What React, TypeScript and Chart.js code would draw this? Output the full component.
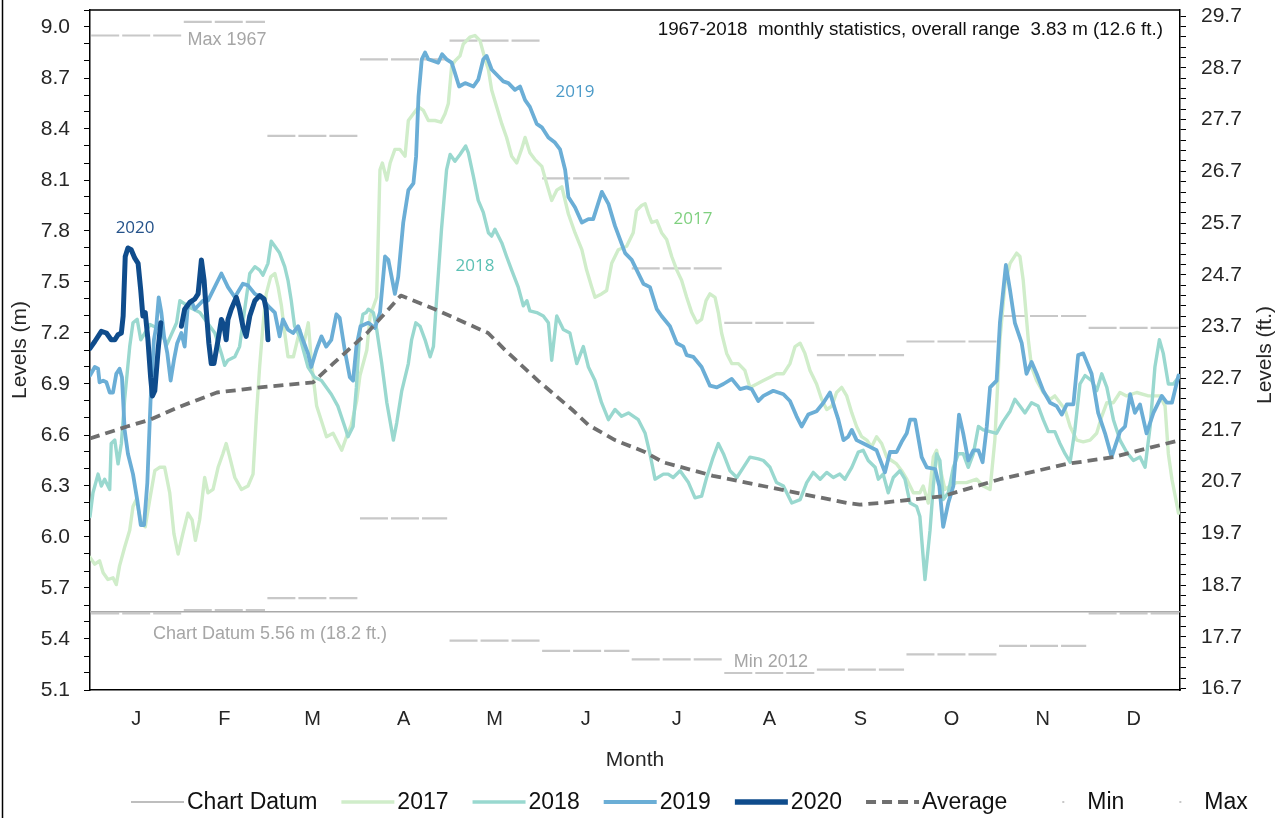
import React, { useEffect, useRef } from 'react';
import { Chart, registerables } from 'chart.js';

Chart.register(...registerables);

// ---------- categories / ticks ----------
const monthLabels = ['J', 'F', 'M', 'A', 'M', 'J', 'J', 'A', 'S', 'O', 'N', 'D'];
const monthStartDays = [0, 31, 59, 90, 120, 151, 181, 212, 243, 273, 304, 334, 365];
const metreTicks = [5.1, 5.4, 5.7, 6.0, 6.3, 6.6, 6.9, 7.2, 7.5, 7.8, 8.1, 8.4, 8.7, 9.0];
const feetTicks = [16.7, 17.7, 18.7, 19.7, 20.7, 21.7, 22.7, 23.7, 24.7, 25.7, 26.7, 27.7, 28.7, 29.7];

// ---------- monthly statistics 1967-2018 (m) ----------
const monthlyMax = [8.95, 9.03, 8.36, 8.81, 8.92, 8.11, 7.58, 7.26, 7.07, 7.15, 7.30, 7.23];
const monthlyMin = [5.55, 5.57, 5.64, 6.11, 5.39, 5.33, 5.28, 5.20, 5.22, 5.31, 5.36, 5.55];
const chartDatum = 5.56;

// ---------- daily levels [day of year, level m] ----------
const level2017 = [
  [0, 5.88], [1.6, 5.84], [3.2, 5.86], [4.4, 5.79], [6.0, 5.75], [7.7, 5.76], [8.8, 5.72], [9.9, 5.83], [11.6, 5.94],
  [13.3, 6.04], [14.4, 6.18], [15.5, 6.22], [17.2, 6.08], [18.5, 6.06], [20.0, 6.22], [21.7, 6.39], [23.3, 6.41],
  [25.0, 6.41], [26.7, 6.26], [28.1, 6.02], [29.5, 5.90], [31.1, 6.02], [32.8, 6.14], [34.2, 6.10], [35.3, 5.98],
  [36.7, 6.10], [38.4, 6.35], [39.5, 6.26], [41.2, 6.28], [42.9, 6.41], [44.5, 6.49], [45.6, 6.55], [46.8, 6.47],
  [48.5, 6.35], [50.7, 6.28], [52.9, 6.30], [54.6, 6.37], [55.7, 6.71], [56.8, 7.00], [57.9, 7.24], [59.0, 7.43],
  [60.5, 7.53], [61.9, 7.55], [63.0, 7.47], [64.1, 7.36], [65.2, 7.20], [66.3, 7.06], [68.1, 7.06], [70.3, 7.22],
  [71.4, 7.12], [73.1, 7.26], [74.2, 7.02], [75.9, 6.77], [79.2, 6.59], [81.4, 6.61], [84.3, 6.51], [85.9, 6.59],
  [87.5, 6.66], [89.3, 6.80], [90.4, 6.95], [92.7, 7.10], [93.8, 7.30], [96.0, 7.41], [97.1, 8.16], [97.9, 8.20],
  [99.4, 8.10], [100.5, 8.20], [102.1, 8.28], [103.8, 8.28], [105.5, 8.24], [106.6, 8.45], [108.3, 8.49], [110.0, 8.53],
  [111.6, 8.51], [113.3, 8.45], [115.5, 8.45], [117.5, 8.44], [118.9, 8.49], [120.0, 8.55], [121.1, 8.77], [122.2, 8.80],
  [123.9, 8.83], [125.0, 8.90], [127.2, 8.94], [128.9, 8.95], [130.6, 8.92], [132.3, 8.81], [133.4, 8.75], [134.5, 8.63],
  [136.2, 8.53], [137.9, 8.43], [139.5, 8.35], [141.2, 8.24], [142.9, 8.20], [144.5, 8.28], [145.7, 8.35], [147.3, 8.26],
  [149.0, 8.22], [151.3, 8.18], [152.9, 8.08], [154.6, 7.98], [156.3, 8.04], [158.0, 8.06], [160.2, 7.90], [162.4, 7.79],
  [164.7, 7.69], [166.3, 7.57], [168.0, 7.47], [169.1, 7.41], [171.3, 7.43], [173.0, 7.45], [174.7, 7.61], [176.9, 7.69],
  [179.7, 7.71], [181.9, 7.79], [183.0, 7.92], [184.7, 7.95], [185.9, 7.96], [187.0, 7.90], [188.1, 7.85], [189.8, 7.86],
  [191.4, 7.79], [193.1, 7.75], [194.8, 7.65], [196.5, 7.57], [198.1, 7.51], [199.8, 7.41], [201.5, 7.32], [203.2, 7.26],
  [204.8, 7.28], [206.3, 7.39], [207.6, 7.43], [209.3, 7.41], [210.4, 7.32], [211.5, 7.20], [213.2, 7.08], [214.9, 7.02],
  [217.1, 7.02], [219.3, 6.98], [221.0, 6.88], [223.3, 6.90], [225.5, 6.92], [227.7, 6.94], [229.9, 6.96], [232.2, 6.96],
  [234.4, 7.02], [236.1, 7.12], [237.8, 7.14], [239.4, 7.08], [241.1, 6.98], [243.3, 6.90], [245.0, 6.81], [246.7, 6.75],
  [248.4, 6.77], [250.0, 6.85], [251.7, 6.88], [253.4, 6.83], [255.1, 6.73], [256.7, 6.65], [258.4, 6.59], [260.1, 6.57],
  [261.7, 6.53], [263.4, 6.59], [265.1, 6.55], [266.8, 6.47], [268.4, 6.45], [270.1, 6.43], [271.8, 6.39], [273.5, 6.34],
  [275.7, 6.26], [277.9, 6.26], [279.0, 6.30], [280.7, 6.20], [282.4, 6.47], [283.5, 6.51], [284.6, 6.41], [286.3, 6.28],
  [288.0, 6.30], [290.2, 6.32], [293.5, 6.32], [296.9, 6.34], [299.1, 6.30], [301.4, 6.28], [303.0, 6.57], [304.7, 7.16],
  [306.4, 7.49], [308.1, 7.61], [310.3, 7.67], [311.4, 7.65], [312.5, 7.51], [314.2, 7.16], [315.3, 7.00], [317.0, 6.92],
  [319.2, 6.85], [321.5, 6.81], [323.1, 6.83], [324.8, 6.79], [326.5, 6.75], [328.2, 6.65], [330.4, 6.57], [332.6, 6.56],
  [334.9, 6.57], [337.1, 6.61], [338.8, 6.71], [340.5, 6.79], [342.7, 6.79], [344.9, 6.85], [347.1, 6.83], [350.5, 6.85],
  [354.4, 6.83], [358.3, 6.83], [360.0, 6.77], [361.1, 6.49], [362.3, 6.34], [364.5, 6.14],
];

const level2018 = [
  [0, 6.12], [1.0, 6.26], [2.7, 6.37], [3.8, 6.30], [4.9, 6.34], [6.6, 6.28], [7.1, 6.55], [8.3, 6.57], [9.4, 6.43],
  [10.5, 6.55], [11.6, 6.81], [13.3, 7.12], [14.4, 7.26], [15.8, 7.28], [17.0, 7.16], [20.1, 7.25], [23.4, 7.22],
  [25.7, 7.13], [29.0, 7.26], [30.1, 7.39], [33.5, 7.35], [36.8, 7.32], [41.8, 7.20], [44.0, 7.08], [45.1, 7.01],
  [46.2, 7.04], [48.5, 7.06], [50.1, 7.12], [51.8, 7.34], [53.5, 7.55], [55.2, 7.59], [56.8, 7.57], [57.9, 7.54],
  [59.6, 7.61], [60.7, 7.74], [61.9, 7.71], [63.5, 7.67], [65.2, 7.59], [66.3, 7.51], [67.4, 7.39], [68.5, 7.24],
  [70.2, 7.18], [73.0, 7.00], [75.2, 6.94], [77.5, 6.92], [80.8, 6.84], [83.0, 6.77], [85.3, 6.65], [86.4, 6.59],
  [88.1, 6.65], [89.2, 6.88], [90.3, 7.20], [91.4, 7.31], [92.5, 7.32], [93.2, 7.34], [94.9, 7.32], [96.0, 7.22],
  [97.7, 7.02], [99.4, 6.79], [101.6, 6.57], [102.7, 6.67], [104.4, 6.86], [106.6, 7.02], [107.7, 7.16], [109.1, 7.26],
  [110.5, 7.24], [112.2, 7.16], [113.9, 7.06], [115.0, 7.12], [116.1, 7.41], [117.7, 7.81], [119.4, 8.16], [120.6, 8.25],
  [122.2, 8.21], [123.9, 8.25], [125.8, 8.30], [126.7, 8.26], [128.4, 8.12], [130.0, 7.98], [131.7, 7.91], [133.4, 7.79],
  [134.5, 7.77], [135.6, 7.81], [137.9, 7.73], [139.5, 7.65], [141.2, 7.57], [143.4, 7.47], [145.1, 7.36], [146.3, 7.39],
  [147.3, 7.33], [149.6, 7.32], [151.8, 7.30], [153.5, 7.26], [154.6, 7.04], [156.3, 7.30], [158.5, 7.22], [160.7, 7.20],
  [163.0, 7.02], [165.2, 7.12], [166.9, 7.00], [169.1, 6.92], [171.3, 6.79], [173.6, 6.69], [175.8, 6.75], [178.0, 6.71],
  [180.3, 6.73], [183.6, 6.69], [185.9, 6.61], [187.5, 6.49], [189.2, 6.34], [192.0, 6.37], [193.6, 6.37], [195.3, 6.35],
  [197.6, 6.39], [200.4, 6.32], [202.6, 6.23], [204.8, 6.24], [206.5, 6.35], [208.7, 6.47], [210.4, 6.55], [212.1, 6.49],
  [214.3, 6.39], [216.6, 6.35], [218.8, 6.41], [221.0, 6.47], [223.8, 6.46], [225.5, 6.45], [227.7, 6.41], [229.9, 6.32],
  [232.2, 6.30], [235.0, 6.20], [237.8, 6.22], [240.0, 6.32], [242.2, 6.38], [244.5, 6.34], [246.7, 6.38], [248.9, 6.35],
  [251.1, 6.37], [252.8, 6.34], [255.1, 6.41], [257.3, 6.50], [258.9, 6.51], [260.6, 6.45], [262.9, 6.41], [264.0, 6.34],
  [265.6, 6.37], [267.3, 6.26], [269.0, 6.35], [271.2, 6.39], [272.9, 6.34], [274.6, 6.20], [276.8, 6.18], [277.9, 6.12],
  [279.6, 5.75], [281.3, 6.04], [282.4, 6.30], [283.5, 6.49], [284.6, 6.45], [285.7, 6.22], [287.4, 6.26], [289.1, 6.41],
  [290.8, 6.49], [292.4, 6.49], [294.1, 6.41], [295.8, 6.49], [297.5, 6.65], [299.1, 6.63], [301.4, 6.62], [303.6, 6.61],
  [305.8, 6.68], [308.1, 6.74], [309.7, 6.81], [311.4, 6.77], [313.1, 6.73], [315.3, 6.79], [317.5, 6.77], [319.2, 6.69],
  [320.9, 6.62], [323.1, 6.62], [324.8, 6.55], [326.5, 6.49], [328.2, 6.44], [329.8, 6.63], [331.5, 6.90], [333.2, 6.95],
  [335.4, 6.92], [337.1, 6.86], [338.8, 6.96], [340.5, 6.88], [342.7, 6.69], [344.9, 6.57], [347.1, 6.50], [349.4, 6.45],
  [351.6, 6.47], [353.3, 6.41], [355.0, 6.65], [356.6, 7.00], [358.1, 7.16], [359.4, 7.08], [361.1, 6.90], [362.8, 6.90],
  [364.5, 6.94],
];

const level2019 = [
  [0, 6.95], [1.6, 7.00], [2.7, 6.99], [3.2, 6.91], [4.4, 6.92], [5.5, 6.91], [6.6, 6.85], [7.7, 6.85], [8.8, 6.96],
  [9.9, 6.99], [10.7, 6.94], [11.6, 6.63], [12.7, 6.49], [14.4, 6.37], [15.8, 6.22], [17.0, 6.07], [18.1, 6.07],
  [19.2, 6.32], [20.3, 6.81], [21.4, 7.16], [22.2, 7.24], [23.0, 7.41], [23.9, 7.32], [24.8, 7.18], [25.9, 7.08],
  [27.0, 6.92], [28.1, 7.04], [29.2, 7.14], [30.6, 7.20], [31.7, 7.12], [32.8, 7.37], [33.9, 7.39], [35.1, 7.34],
  [36.2, 7.36], [37.8, 7.39], [39.5, 7.39], [44.0, 7.55], [46.2, 7.47], [48.5, 7.41], [51.2, 7.49], [52.9, 7.48],
  [55.2, 7.43], [57.4, 7.41], [59.6, 7.36], [61.9, 7.32], [63.5, 7.18], [64.6, 7.28], [66.3, 7.22], [68.0, 7.20],
  [69.7, 7.24], [71.3, 7.16], [73.0, 7.08], [74.1, 7.00], [75.8, 7.10], [77.5, 7.18], [79.1, 7.12], [80.8, 7.16],
  [82.5, 7.31], [83.6, 7.29], [85.3, 7.10], [87.0, 6.94], [88.1, 6.92], [89.2, 7.12], [90.6, 7.24], [93.2, 7.26],
  [95.4, 7.23], [97.1, 7.32], [98.8, 7.65], [99.9, 7.63], [102.1, 7.43], [103.2, 7.53], [104.9, 7.85], [106.6, 8.04],
  [108.3, 8.08], [109.2, 8.24], [110.0, 8.59], [111.1, 8.81], [112.2, 8.85], [113.3, 8.81], [115.0, 8.80], [116.6, 8.79],
  [117.9, 8.84], [119.4, 8.81], [121.1, 8.79], [122.2, 8.73], [123.6, 8.65], [125.6, 8.67], [128.4, 8.65], [130.0, 8.69],
  [131.7, 8.81], [132.8, 8.83], [134.5, 8.75], [136.7, 8.71], [138.4, 8.68], [140.1, 8.67], [142.3, 8.63], [144.0, 8.65],
  [145.7, 8.57], [147.3, 8.53], [149.6, 8.43], [151.3, 8.41], [153.5, 8.35], [155.7, 8.32], [157.4, 8.28], [159.1, 8.16],
  [160.2, 8.00], [162.4, 7.94], [164.7, 7.85], [166.9, 7.87], [168.5, 7.87], [171.4, 8.03], [173.6, 7.96], [175.8, 7.83],
  [179.2, 7.67], [181.4, 7.63], [185.3, 7.49], [187.5, 7.47], [189.8, 7.34], [191.4, 7.30], [194.2, 7.24], [196.5, 7.14],
  [198.7, 7.12], [199.8, 7.07], [202.0, 7.06], [204.8, 7.00], [207.6, 6.89], [209.9, 6.88], [212.1, 6.90], [214.9, 6.93],
  [217.7, 6.87], [219.9, 6.88], [221.6, 6.87], [223.8, 6.80], [225.5, 6.83], [228.8, 6.86], [232.2, 6.84], [234.4, 6.80],
  [236.6, 6.71], [238.3, 6.65], [240.5, 6.72], [243.3, 6.74], [245.6, 6.79], [247.8, 6.85], [249.5, 6.75], [250.6, 6.69],
  [252.3, 6.57], [253.9, 6.59], [255.1, 6.63], [256.7, 6.57], [259.0, 6.55], [261.2, 6.53], [263.4, 6.51], [266.2, 6.38],
  [267.9, 6.50], [270.1, 6.50], [271.8, 6.56], [273.5, 6.61], [274.6, 6.69], [276.3, 6.69], [278.5, 6.47], [280.2, 6.41],
  [283.0, 6.40], [284.4, 6.30], [285.7, 6.06], [287.4, 6.20], [289.1, 6.30], [291.0, 6.72], [292.4, 6.61], [294.1, 6.45],
  [295.8, 6.51], [297.5, 6.51], [298.9, 6.44], [300.3, 6.65], [301.4, 6.88], [303.6, 6.92], [304.7, 7.26], [306.7, 7.60],
  [308.1, 7.45], [309.7, 7.26], [312.0, 7.14], [313.6, 6.96], [315.3, 7.03], [317.0, 6.96], [319.2, 6.86], [321.5, 6.79],
  [323.7, 6.77], [325.4, 6.72], [327.1, 6.78], [329.3, 6.78], [330.9, 7.07], [332.6, 7.08], [335.4, 6.96], [337.6, 6.73],
  [339.9, 6.61], [342.1, 6.47], [343.2, 6.53], [344.9, 6.62], [346.6, 6.65], [348.3, 6.84], [349.9, 6.73], [351.6, 6.78],
  [353.8, 6.61], [356.1, 6.73], [358.9, 6.83], [360.6, 6.79], [362.3, 6.79], [364.5, 6.95],
];

// 2020 has a short gap in the record around day 24-30
const level2020a = [
  [0, 7.11], [1.6, 7.15], [3.8, 7.21], [5.5, 7.20], [7.1, 7.16], [8.3, 7.16], [9.4, 7.19], [10.5, 7.20], [11.1, 7.30],
  [11.8, 7.65], [12.7, 7.70], [13.8, 7.69], [15.0, 7.64], [16.1, 7.61], [17.0, 7.45], [17.7, 7.30], [18.5, 7.32],
  [19.4, 7.16], [20.3, 6.94], [20.9, 6.83], [21.7, 6.86], [22.8, 7.10], [23.7, 7.26],
];
const level2020b = [
  [30.6, 7.24], [31.7, 7.34], [33.4, 7.38], [35.1, 7.40], [36.2, 7.43], [37.3, 7.63], [38.2, 7.51], [38.9, 7.34],
  [39.8, 7.14], [40.6, 7.02], [41.5, 7.02], [42.9, 7.16], [44.0, 7.28], [44.9, 7.24], [45.6, 7.16], [46.2, 7.28],
  [47.3, 7.34], [49.0, 7.41], [50.1, 7.34], [51.2, 7.24], [52.3, 7.18], [53.5, 7.30], [55.2, 7.39], [56.8, 7.42],
  [58.3, 7.40], [59.0, 7.34], [59.6, 7.16],
];

const levelAverage = [
  [0, 6.58], [12.4, 6.65], [20.1, 6.69], [29.1, 6.76], [42.5, 6.85], [56.9, 6.88], [74.7, 6.91], [81.4, 7.02],
  [92.8, 7.20], [104.1, 7.42], [115.5, 7.34], [125.6, 7.26], [133.3, 7.20], [139.0, 7.10], [150.0, 6.92], [161.4, 6.75],
  [166.8, 6.66], [175.8, 6.57], [185.8, 6.50], [191.9, 6.44], [208.6, 6.36], [225.4, 6.30], [236.7, 6.26], [253.5, 6.20],
  [257.8, 6.19], [264.5, 6.20], [285.6, 6.24], [304.7, 6.34], [327.2, 6.43], [342.6, 6.47], [365, 6.57],
];

// ---------- text annotations ----------
const statsText = '1967-2018  monthly statistics, overall range  3.83 m (12.6 ft.)';
const legendOrder = ['Chart Datum', '2017', '2018', '2019', '2020', 'Average', 'Min', 'Max'];

const toPoints = (pairs: number[][]) => pairs.map(([x, y]) => ({ x, y }));
const monthSegments = (vals: number[]) =>
  vals.flatMap((v, i) => [
    { x: monthStartDays[i] + 0.4, y: v },
    { x: monthStartDays[i + 1] - 0.4, y: v },
    { x: monthStartDays[i + 1], y: null as any },
  ]);

const FONT = '"Liberation Sans", Arial, sans-serif';
const LABEL_FONT = '"Open Sans", "Liberation Sans", sans-serif';

const overlayPlugin = {
  id: 'overlay',
  afterDraw(chart: any) {
    const { ctx, chartArea, scales } = chart;
    const xs = scales.x;
    const ys = scales.y;
    const px = (d: number) => xs.getPixelForValue(d);
    const py = (m: number) => ys.getPixelForValue(m);
    ctx.save();

    // plot area top border
    ctx.strokeStyle = '#000';
    ctx.lineWidth = 1.5;
    ctx.beginPath();
    ctx.moveTo(chartArea.left, chartArea.top);
    ctx.lineTo(chartArea.right, chartArea.top);
    ctx.stroke();

    // outer frame (left edge)
    ctx.lineWidth = 1.5;
    ctx.beginPath();
    ctx.moveTo(2.5, 0);
    ctx.lineTo(2.5, chart.height);
    ctx.stroke();

    // statistics notes
    ctx.fillStyle = '#a6a6a6';
    ctx.font = `18px ${FONT}`;
    ctx.textBaseline = 'middle';
    ctx.textAlign = 'center';
    ctx.fillText('Max 1967', px(45.9), py(8.924));
    ctx.fillText('Min 2012', px(228.0), py(5.265));
    ctx.textAlign = 'left';
    ctx.fillText(`Chart Datum ${chartDatum.toFixed(2)} m (18.2 ft.)`, px(21.1), py(5.429));

    // overall range note
    ctx.fillStyle = '#111';
    ctx.font = `18.8px ${FONT}`;
    ctx.textAlign = 'right';
    ctx.fillText(statsText, px(359.3), py(9.0) + 3);

    // series labels
    ctx.font = `17px ${LABEL_FONT}`;
    ctx.textAlign = 'center';
    const seriesLabels: [string, number, number, string][] = [
      ['2020', 15.1, 7.818, '#24528a'],
      ['2019', 162.4, 8.618, '#4b9ac8'],
      ['2018', 128.9, 7.594, '#5cc0b4'],
      ['2017', 201.9, 7.871, '#7fd07f'],
    ];
    seriesLabels.forEach(([t, d, m, c]) => {
      ctx.fillStyle = c;
      ctx.fillText(t, px(d), py(m));
    });

    // right axis title (reads bottom to top)
    ctx.save();
    ctx.fillStyle = '#262626';
    ctx.font = `21px ${FONT}`;
    ctx.translate(1265, (chartArea.top + chartArea.bottom) / 2 + 5);
    ctx.rotate(-Math.PI / 2);
    ctx.textAlign = 'center';
    ctx.fillText('Levels (ft.)', 0, 0);
    ctx.restore();

    // legend
    ctx.font = `23px ${FONT}`;
    ctx.textBaseline = 'middle';
    ctx.textAlign = 'left';
    let x = 131;
    const y = 802;
    legendOrder.forEach((label) => {
      const ds = chart.data.datasets.find((d: any) => d.label === label);
      if (!ds) return;
      const lineLen = 53;
      ctx.save();
      ctx.strokeStyle = ds.borderColor;
      if (label === 'Min' || label === 'Max') {
        ctx.fillStyle = ds.borderColor;
        ctx.fillRect(x + 31, y - 1, 2, 2);
      } else {
        ctx.lineWidth = label === 'Chart Datum' ? 1.5 : ds.borderWidth + 0.3;
        ctx.setLineDash(ds.borderDash || []);
        ctx.beginPath();
        ctx.moveTo(x, y);
        ctx.lineTo(x + lineLen, y);
        ctx.stroke();
      }
      ctx.restore();
      ctx.fillStyle = '#111';
      ctx.fillText(label, x + lineLen + 3, y + 1);
      x += lineLen + 3 + ctx.measureText(label).width + 24;
    });

    ctx.restore();
  },
};

export default function App() {
  const canvasRef = useRef<HTMLCanvasElement | null>(null);

  useEffect(() => {
    if (!canvasRef.current) return;
    Chart.defaults.font.family = FONT;

    const lineBase = {
      pointRadius: 0,
      borderCapStyle: 'round' as const,
      borderJoinStyle: 'round' as const,
      tension: 0,
      fill: false,
      spanGaps: false,
    };

    const zeroPad = (s: any) => {
      s.paddingTop = 0;
      s.paddingBottom = 0;
    };

    const chart = new Chart(canvasRef.current, {
      type: 'line',
      data: {
        datasets: [
          { ...lineBase, label: 'Average', data: toPoints(levelAverage), borderColor: '#6f6f6f', borderWidth: 3.8, borderDash: [10, 6], borderCapStyle: 'butt', order: 0 },
          { ...lineBase, label: '2020', data: [...toPoints(level2020a), { x: 27, y: null as any }, ...toPoints(level2020b)], borderColor: '#0f4c8c', borderWidth: 5, order: 1 },
          { ...lineBase, label: '2019', data: toPoints(level2019), borderColor: '#6baed6', borderWidth: 3.8, order: 2 },
          { ...lineBase, label: '2018', data: toPoints(level2018), borderColor: '#99d8cf', borderWidth: 3.4, order: 3 },
          { ...lineBase, label: '2017', data: toPoints(level2017), borderColor: '#d0edca', borderWidth: 3.4, order: 4 },
          { ...lineBase, label: 'Chart Datum', data: [{ x: 0, y: chartDatum }, { x: 365, y: chartDatum }], borderColor: '#a9a9a9', borderWidth: 1.5, order: 5 },
          { ...lineBase, label: 'Min', data: monthSegments(monthlyMin), borderColor: '#c8c8c8', borderWidth: 2.2, borderDash: [28, 3], borderCapStyle: 'butt', order: 6 },
          { ...lineBase, label: 'Max', data: monthSegments(monthlyMax), borderColor: '#c8c8c8', borderWidth: 2.2, borderDash: [28, 3], borderCapStyle: 'butt', order: 7 },
        ] as any,
      },
      options: {
        animation: false,
        responsive: true,
        maintainAspectRatio: false,
        events: [],
        layout: { padding: { top: 10, left: 0, right: 0, bottom: 0 } },
        plugins: { legend: { display: false }, tooltip: { enabled: false } },
        scales: {
          x: {
            type: 'linear',
            min: 0,
            max: 365,
            afterBuildTicks: (s: any) => {
              s.ticks = monthLabels.map((_, i) => ({ value: (monthStartDays[i] + monthStartDays[i + 1]) / 2 }));
            },
            afterFit: (s: any) => {
              s.height = 128;
              s.paddingLeft = 0;
              s.paddingRight = 0;
            },
            ticks: {
              autoSkip: false,
              maxRotation: 0,
              padding: 17,
              color: '#262626',
              font: { size: 20, family: FONT },
              callback: (_v: any, i: number) => monthLabels[i],
            },
            grid: { display: false, drawTicks: false },
            border: { display: true, color: '#000', width: 1.5 },
            title: { display: true, text: 'Month', color: '#262626', font: { size: 21, family: FONT }, padding: { top: 0, bottom: 45 } },
          },
          y: {
            type: 'linear',
            position: 'left',
            min: 5.1,
            max: 9.1,
            afterBuildTicks: (s: any) => {
              const t = [];
              for (let k = 0; k <= 40; k++) t.push({ value: Math.round((5.1 + k * 0.1) * 100) / 100 });
              s.ticks = t;
            },
            afterFit: (s: any) => {
              s.width = 90;
              zeroPad(s);
            },
            ticks: {
              autoSkip: false,
              padding: 14,
              color: '#262626',
              font: { size: 21, family: FONT },
              callback: (v: any) => (metreTicks.some((m) => Math.abs(m - v) < 1e-6) ? Number(v).toFixed(1) : ''),
            },
            grid: { drawOnChartArea: false, drawTicks: true, tickLength: 6, color: '#000', lineWidth: 1 },
            border: { display: true, color: '#000', width: 1.5 },
            title: { display: true, text: 'Levels (m)', color: '#262626', font: { size: 21, family: FONT }, padding: { top: 8, bottom: 0 } },
          },
          y2: {
            type: 'linear',
            position: 'right',
            min: 16.67,
            max: 29.82,
            afterBuildTicks: (s: any) => {
              const t = [];
              for (let k = 0; k <= 65; k++) t.push({ value: Math.round((16.7 + k * 0.2) * 100) / 100 });
              s.ticks = t;
            },
            afterFit: (s: any) => {
              s.width = 106;
              zeroPad(s);
            },
            ticks: {
              autoSkip: false,
              padding: 15,
              color: '#262626',
              font: { size: 21, family: FONT },
              callback: (v: any) => (feetTicks.some((f) => Math.abs(f - v) < 1e-6) ? Number(v).toFixed(1) : ''),
            },
            grid: { drawOnChartArea: false, drawTicks: true, tickLength: 6, color: '#000', lineWidth: 1 },
            border: { display: true, color: '#000', width: 1.5 },
            title: { display: false },
          },
        },
      } as any,
      plugins: [overlayPlugin],
    });

    return () => chart.destroy();
  }, []);

  return (
    <div style={{ position: 'fixed', left: 0, top: 0, width: 1286, height: 818, background: '#fff' }}>
      <canvas ref={canvasRef} />
    </div>
  );
}
